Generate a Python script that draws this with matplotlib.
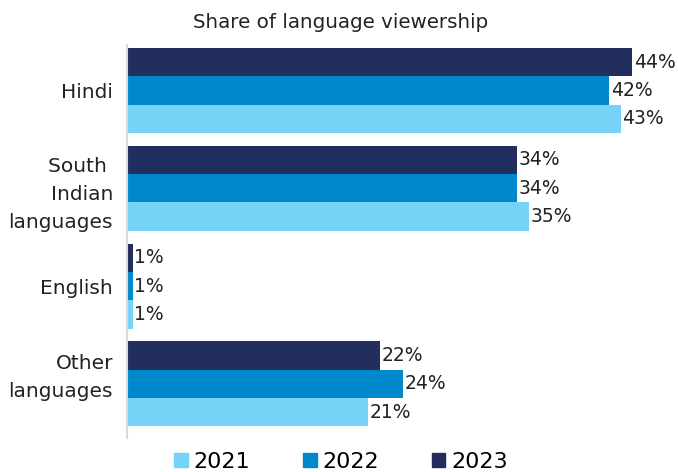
import matplotlib.pyplot as plt
import matplotlib.transforms as mtransforms
import numpy as np

categories = ["Hindi", "South \nIndian\nlanguages", "English", "Other\nlanguages"]
years = ["2021", "2022", "2023"]
v2021 = [43, 35, 0.5, 21]
v2022 = [42, 34, 0.5, 24]
v2023 = [44, 34, 0.5, 22]
lab2021 = ["43%", "35%", "1%", "21%"]
lab2022 = ["42%", "34%", "1%", "24%"]
lab2023 = ["44%", "34%", "1%", "22%"]

colors = {"2021": "#75D3F7", "2022": "#0088CC", "2023": "#212E5E"}

fig = plt.figure(figsize=(6.78, 4.72), dpi=100)
ax = fig.add_axes([127 / 678, 1 - 438 / 472, 1 - 127 / 678, (438 - 45) / 472])

y = np.arange(len(categories))
h = 0.29
series = [("2023", v2023, lab2023, -h), ("2022", v2022, lab2022, 0), ("2021", v2021, lab2021, h)]
for year, vals, labs, off in series:
    bars = ax.barh(y + off, vals, height=h, color=colors[year], label=year)
    for b, t in zip(bars, labs):
        ax.text(b.get_width() + 0.15, b.get_y() + b.get_height() / 2, t,
                va="center", ha="left", fontsize=13.5, color="#222222")

ax.set_xlim(0, 48)
ax.set_ylim(3.553, -0.465)
ax.set_yticks(y)
ax.set_yticklabels(categories, fontsize=14.5, color="#222222", ha="right", linespacing=1.6)
ax.tick_params(axis="y", length=0, pad=10)
ax.set_xticks([])
for s in ["top", "right", "bottom"]:
    ax.spines[s].set_visible(False)
ax.spines["left"].set_color("#D9D9D9")
ax.spines["left"].set_linewidth(1.5)

# nudge the "Other languages" label up a bit like in the original
lbl = ax.get_yticklabels()[3]
lbl.set_transform(lbl.get_transform() + mtransforms.ScaledTranslation(0, 9 / 72, fig.dpi_scale_trans))

fig.text(341 / 678, 1 - 22 / 472, "Share of language viewership", ha="center", va="center",
         fontsize=14.3, color="#222222")

handles = [plt.Rectangle((0, 0), 1, 1, color=colors[yr]) for yr in years]
fig.legend(handles, years, loc="center", bbox_to_anchor=(341 / 678, 1 - 462 / 472), ncol=3,
           frameon=False, fontsize=16, handlelength=0.6, handleheight=0.6, handletextpad=0.25,
           columnspacing=2.4, borderpad=0.1)

fig.savefig("out.png", dpi=100)
